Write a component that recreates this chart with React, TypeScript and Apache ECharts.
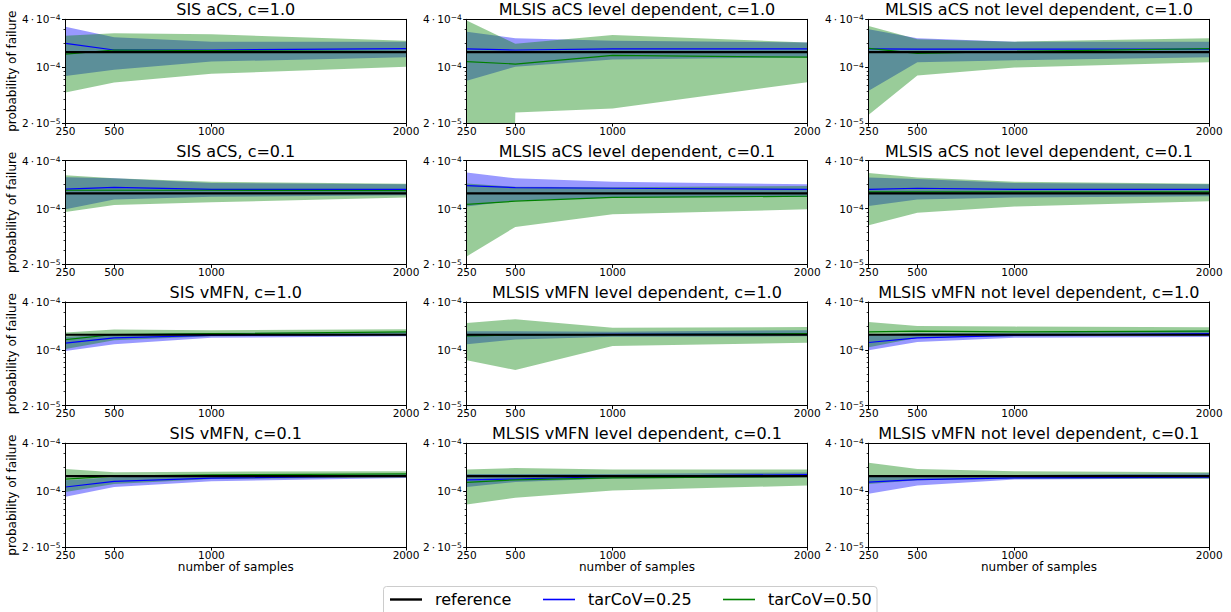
import React, { useEffect, useRef } from "react";
import * as echarts from "echarts";

const FONT = "DejaVu Sans";

const PANEL_TITLES = [
  "SIS aCS, c=1.0",
  "MLSIS aCS level dependent, c=1.0",
  "MLSIS aCS not level dependent, c=1.0",
  "SIS aCS, c=0.1",
  "MLSIS aCS level dependent, c=0.1",
  "MLSIS aCS not level dependent, c=0.1",
  "SIS vMFN, c=1.0",
  "MLSIS vMFN level dependent, c=1.0",
  "MLSIS vMFN not level dependent, c=1.0",
  "SIS vMFN, c=0.1",
  "MLSIS vMFN level dependent, c=0.1",
  "MLSIS vMFN not level dependent, c=0.1",
];

const SAMPLES = [250, 500, 1000, 2000];
const X_TICKS = [250, 500, 1000, 2000];
const Y_MIN = 2e-5;
const Y_MAX = 4e-4;
const Y_MAJOR = [2e-5, 1e-4, 4e-4];
const Y_MINOR = [3e-5, 4e-5, 5e-5, 6e-5, 7e-5, 8e-5, 9e-5, 2e-4, 3e-4];
const REFERENCE = 1.55e-4;
const X_LABEL = "number of samples";
const Y_LABEL = "probability of failure";
const LEGEND_LABELS = ["reference", "tarCoV=0.25", "tarCoV=0.50"];

// tarCoV = 0.25 (blue): mean, upper and lower band edge, one row per panel
const BLUE_MEAN = [
  [2.0e-4, 1.65e-4, 1.65e-4, 1.72e-4],
  [1.7e-4, 1.65e-4, 1.7e-4, 1.7e-4],
  [1.7e-4, 1.69e-4, 1.69e-4, 1.69e-4],
  [1.76e-4, 1.85e-4, 1.74e-4, 1.74e-4],
  [1.94e-4, 1.83e-4, 1.8e-4, 1.74e-4],
  [1.74e-4, 1.8e-4, 1.74e-4, 1.74e-4],
  [1.22e-4, 1.42e-4, 1.52e-4, 1.56e-4],
  [1.53e-4, 1.53e-4, 1.57e-4, 1.6e-4],
  [1.24e-4, 1.42e-4, 1.52e-4, 1.6e-4],
  [1.13e-4, 1.33e-4, 1.46e-4, 1.57e-4],
  [1.39e-4, 1.42e-4, 1.53e-4, 1.62e-4],
  [1.3e-4, 1.4e-4, 1.47e-4, 1.5e-4],
];
const BLUE_UPPER = [
  [3.23e-4, 2.38e-4, 2.1e-4, 2.1e-4],
  [2.8e-4, 2.32e-4, 2.15e-4, 2.05e-4],
  [3.0e-4, 2.32e-4, 2.1e-4, 2.1e-4],
  [2.47e-4, 2.4e-4, 2.1e-4, 2.02e-4],
  [2.83e-4, 2.4e-4, 2.17e-4, 2.02e-4],
  [2.45e-4, 2.36e-4, 2.1e-4, 2.02e-4],
  [1.46e-4, 1.56e-4, 1.63e-4, 1.68e-4],
  [1.72e-4, 1.72e-4, 1.69e-4, 1.77e-4],
  [1.56e-4, 1.63e-4, 1.64e-4, 1.77e-4],
  [1.37e-4, 1.5e-4, 1.57e-4, 1.65e-4],
  [1.65e-4, 1.65e-4, 1.65e-4, 1.72e-4],
  [1.57e-4, 1.6e-4, 1.6e-4, 1.68e-4],
];
const BLUE_LOWER = [
  [0.78e-4, 0.93e-4, 1.18e-4, 1.34e-4],
  [0.68e-4, 1.02e-4, 1.25e-4, 1.34e-4],
  [0.51e-4, 1.16e-4, 1.23e-4, 1.34e-4],
  [0.98e-4, 1.3e-4, 1.41e-4, 1.47e-4],
  [1.06e-4, 1.26e-4, 1.38e-4, 1.4e-4],
  [1.08e-4, 1.3e-4, 1.38e-4, 1.43e-4],
  [0.97e-4, 1.18e-4, 1.42e-4, 1.48e-4],
  [1.18e-4, 1.35e-4, 1.46e-4, 1.48e-4],
  [0.99e-4, 1.26e-4, 1.42e-4, 1.45e-4],
  [0.85e-4, 1.13e-4, 1.33e-4, 1.47e-4],
  [1.13e-4, 1.31e-4, 1.44e-4, 1.5e-4],
  [0.93e-4, 1.18e-4, 1.4e-4, 1.44e-4],
];

// tarCoV = 0.50 (green)
const GREEN_MEAN = [
  [1.46e-4, 1.65e-4, 1.62e-4, 1.58e-4],
  [1.18e-4, 1.1e-4, 1.41e-4, 1.34e-4],
  [1.73e-4, 1.5e-4, 1.58e-4, 1.72e-4],
  [1.7e-4, 1.7e-4, 1.7e-4, 1.68e-4],
  [1.13e-4, 1.24e-4, 1.38e-4, 1.43e-4],
  [1.62e-4, 1.62e-4, 1.62e-4, 1.62e-4],
  [1.35e-4, 1.56e-4, 1.6e-4, 1.68e-4],
  [1.5e-4, 1.53e-4, 1.56e-4, 1.6e-4],
  [1.68e-4, 1.72e-4, 1.68e-4, 1.72e-4],
  [1.42e-4, 1.55e-4, 1.6e-4, 1.65e-4],
  [1.29e-4, 1.39e-4, 1.47e-4, 1.53e-4],
  [1.57e-4, 1.55e-4, 1.55e-4, 1.57e-4],
];
const GREEN_UPPER = [
  [2.48e-4, 2.67e-4, 2.6e-4, 2.15e-4],
  [3.85e-4, 1.97e-4, 2.55e-4, 2.05e-4],
  [3.3e-4, 2.25e-4, 2.1e-4, 2.32e-4],
  [2.63e-4, 2.4e-4, 2.17e-4, 2.05e-4],
  [2.07e-4, 1.88e-4, 1.85e-4, 1.92e-4],
  [2.8e-4, 2.45e-4, 2.17e-4, 2.05e-4],
  [1.65e-4, 1.8e-4, 1.77e-4, 1.82e-4],
  [2.18e-4, 2.43e-4, 1.9e-4, 1.94e-4],
  [2.24e-4, 2.0e-4, 1.96e-4, 1.93e-4],
  [1.9e-4, 1.73e-4, 1.76e-4, 1.78e-4],
  [1.87e-4, 1.95e-4, 1.87e-4, 1.87e-4],
  [2.27e-4, 1.9e-4, 1.78e-4, 1.73e-4],
];
// 1e-30 stands for a non-positive lower edge (clipped on the log axis)
const GREEN_LOWER = [
  [0.484e-4, 0.645e-4, 0.83e-4, 1.02e-4],
  [1e-30, 0.272e-4, 0.305e-4, 0.65e-4],
  [0.254e-4, 0.79e-4, 0.995e-4, 1.16e-4],
  [0.91e-4, 1.11e-4, 1.2e-4, 1.38e-4],
  [0.252e-4, 0.59e-4, 0.85e-4, 0.98e-4],
  [0.62e-4, 0.89e-4, 1.06e-4, 1.24e-4],
  [1.03e-4, 1.32e-4, 1.48e-4, 1.55e-4],
  [0.74e-4, 0.56e-4, 1.12e-4, 1.23e-4],
  [1.08e-4, 1.42e-4, 1.48e-4, 1.52e-4],
  [0.98e-4, 1.23e-4, 1.42e-4, 1.5e-4],
  [0.68e-4, 0.83e-4, 1.02e-4, 1.18e-4],
  [1.23e-4, 1.37e-4, 1.43e-4, 1.43e-4],
];

const GRID_LEFT = [65.5, 466.7, 868.7];
const GRID_TOP = [19.3, 160.6, 301.9, 443.2];
const GRID_W = 340.5;
const GRID_H = 103.8;

const BLUE = "#0000ff";
const GREEN = "#008000";
const BLUE_FILL = "rgba(0,0,255,0.4)";
const GREEN_FILL = "rgba(0,128,0,0.4)";

function yLabel(v: number): string {
  if (v < 3e-5) return "{b|2\u2009·\u200910}{s|−5}";
  if (v < 2e-4) return "{b|10}{s|−4}";
  return "{b|4\u2009·\u200910}{s|−4}";
}

function bandSeries(i: number, lower: number[], upper: number[], fill: string) {
  return {
    type: "custom",
    xAxisIndex: 2 * i,
    yAxisIndex: 3 * i,
    coordinateSystem: "cartesian2d",
    clip: true,
    silent: true,
    z: 2,
    encode: { x: 0, y: [1, 2] },
    data: SAMPLES.map((x, k) => [x, lower[k], upper[k]]),
    renderItem: (params: any, api: any) => {
      if (params.dataIndexInside !== 0) return null;
      const top: number[][] = [];
      const bottom: number[][] = [];
      for (let j = 0; j < SAMPLES.length; j++) {
        top.push(api.coord([api.value(0, j), api.value(2, j)]));
        bottom.push(api.coord([api.value(0, j), api.value(1, j)]));
      }
      return {
        type: "polygon",
        shape: { points: top.concat(bottom.reverse()) },
        style: { fill, stroke: null },
      };
    },
  };
}

function lineSeries(i: number, values: number[], color: string, width: number, z: number) {
  return {
    type: "line",
    xAxisIndex: 2 * i,
    yAxisIndex: 3 * i,
    data: SAMPLES.map((x, k) => [x, values[k]]),
    symbol: "none",
    showSymbol: false,
    silent: true,
    z,
    lineStyle: { color, width },
  };
}

function buildOption() {
  const grids: any[] = [];
  const xAxes: any[] = [];
  const yAxes: any[] = [];
  const series: any[] = [];
  const titles: any[] = [];
  const axisLine = { show: true, onZero: false, lineStyle: { color: "#000", width: 1 } };

  PANEL_TITLES.forEach((title, i) => {
    const r = Math.floor(i / 3);
    const c = i % 3;
    grids.push({
      left: GRID_LEFT[c],
      top: GRID_TOP[r],
      width: GRID_W,
      height: GRID_H,
      containLabel: false,
    });
    titles.push({
      text: title,
      left: GRID_LEFT[c] + GRID_W / 2,
      top: GRID_TOP[r] - 17.5,
      textAlign: "center",
      padding: 0,
      textStyle: { fontFamily: FONT, fontSize: 16, fontWeight: "normal", color: "#000" },
    });
    xAxes.push({
      gridIndex: i,
      type: "value",
      position: "bottom",
      min: 250,
      max: 2000,
      z: 6,
      axisLine,
      axisTick: { show: true, length: 3.5, customValues: X_TICKS, lineStyle: { color: "#000" } },
      axisLabel: {
        customValues: X_TICKS,
        color: "#000",
        fontFamily: FONT,
        fontSize: 10.5,
        margin: 2,
        formatter: (v: number) => String(v),
      },
      splitLine: { show: false },
      name: r === 3 ? X_LABEL : "",
      nameLocation: "middle",
      nameGap: 14,
      nameTextStyle: { fontFamily: FONT, fontSize: 12, color: "#000" },
    });
    xAxes.push({
      gridIndex: i,
      type: "value",
      position: "top",
      min: 250,
      max: 2000,
      z: 6,
      axisLine,
      axisTick: { show: false },
      axisLabel: { show: false },
      splitLine: { show: false },
    });
    yAxes.push({
      gridIndex: i,
      type: "log",
      logBase: 10,
      position: "left",
      min: Y_MIN,
      max: Y_MAX,
      z: 6,
      axisLine,
      axisTick: { show: true, length: 3.5, customValues: Y_MAJOR, lineStyle: { color: "#000" } },
      minorTick: { show: false },
      axisLabel: {
        customValues: Y_MAJOR,
        margin: 5,
        formatter: yLabel,
        rich: {
          b: { fontFamily: FONT, fontSize: 10.5, color: "#000" },
          s: { fontFamily: FONT, fontSize: 7.5, color: "#000", verticalAlign: "top" },
        },
      },
      splitLine: { show: false },
      name: c === 0 ? Y_LABEL : "",
      nameLocation: "middle",
      nameGap: 45,
      nameRotate: 90,
      nameTextStyle: { fontFamily: FONT, fontSize: 12, color: "#000" },
    });
    yAxes.push({
      gridIndex: i,
      type: "log",
      logBase: 10,
      position: "left",
      min: Y_MIN,
      max: Y_MAX,
      z: 6,
      axisLine: { show: false },
      axisTick: { show: true, length: 2, customValues: Y_MINOR, lineStyle: { color: "#000", width: 0.8 } },
      axisLabel: { show: false },
      splitLine: { show: false },
    });
    yAxes.push({
      gridIndex: i,
      type: "log",
      logBase: 10,
      position: "right",
      min: Y_MIN,
      max: Y_MAX,
      z: 6,
      axisLine,
      axisTick: { show: false },
      axisLabel: { show: false },
      splitLine: { show: false },
    });

    series.push(bandSeries(i, BLUE_LOWER[i], BLUE_UPPER[i], BLUE_FILL));
    series.push(bandSeries(i, GREEN_LOWER[i], GREEN_UPPER[i], GREEN_FILL));
    series.push(lineSeries(i, BLUE_MEAN[i], BLUE, 1.2, 3));
    series.push(lineSeries(i, GREEN_MEAN[i], GREEN, 1.2, 3));
    series.push(lineSeries(i, SAMPLES.map(() => REFERENCE), "#000", 2.2, 4));
  });

  const legendY = 599.5;
  const handles = [
    { x: 390, color: "#000000", width: 2.4, tx: 435 },
    { x: 543, color: BLUE, width: 1.6, tx: 588 },
    { x: 723, color: GREEN, width: 1.6, tx: 768 },
  ];
  const graphic: any[] = [
    {
      type: "rect",
      shape: { x: 383.5, y: 586.5, width: 493.5, height: 40, r: 3 },
      style: { fill: "rgba(255,255,255,0.8)", stroke: "#cccccc", lineWidth: 1 },
      z: 10,
    },
  ];
  handles.forEach((h, k) => {
    graphic.push({
      type: "rect",
      shape: { x: h.x, y: legendY - h.width / 2, width: 32, height: h.width },
      style: { fill: h.color },
      z: 11,
    });
    graphic.push({
      type: "text",
      x: h.tx,
      y: legendY,
      style: {
        text: LEGEND_LABELS[k],
        fontFamily: FONT,
        fontSize: 16,
        fill: "#000",
        align: "left",
        verticalAlign: "middle",
      },
      z: 11,
    });
  });

  return {
    animation: false,
    backgroundColor: "#fff",
    title: titles,
    grid: grids,
    xAxis: xAxes,
    yAxis: yAxes,
    series,
    graphic,
  };
}

export default function App() {
  const ref = useRef<HTMLDivElement>(null);
  useEffect(() => {
    if (!ref.current) return;
    const chart = echarts.init(ref.current, null, { renderer: "svg" });
    chart.setOption(buildOption() as any);
    return () => chart.dispose();
  }, []);
  return (
    <div
      ref={ref}
      style={{ position: "fixed", left: 0, top: 0, width: 1231, height: 612 }}
    />
  );
}
